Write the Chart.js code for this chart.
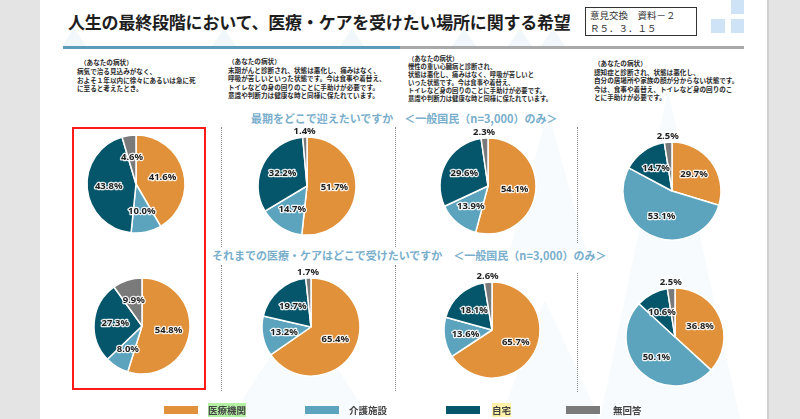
<!DOCTYPE html>
<html lang="ja">
<head>
<meta charset="utf-8">
<script src="https://cdn.jsdelivr.net/npm/chart.js@4.4.1/dist/chart.umd.min.js"></script>
<style>
  body { margin: 0; width: 800px; height: 419px; background: #e4e4e4; overflow: hidden;
         font-family: "Noto Sans CJK JP", "Noto Sans", sans-serif; }
  #slide { position: absolute; left: 40px; top: 0; width: 727px; height: 419px; background: #fff;
           border-right: 2px solid #d0d0d0; }
  .abs { position: absolute; }
  .desc { position: absolute; font-size: 6.6px; color: #2a2a2a; white-space: pre; font-weight: 700; }
  .sub { position: absolute; font-size: 11px; font-weight: 700; color: #79aecb; white-space: pre; }
  .sep { position: absolute; width: 0; border-left: 1.5px dotted #8a8a8a; }
  canvas { position: absolute; }
  #legend { position: absolute; top: 403px; left: 0; width: 800px; height: 14px; }
  .sw { position: absolute; top: 3px; width: 34px; height: 8px; }
  .lt { position: absolute; top: 0; font-size: 9.5px; font-weight: 700; color: #444; line-height: 14px; }
</style>
</head>
<body>
<div id="slide"></div>
<svg class="abs" style="left:0;top:0" width="800" height="419">
  <polygon points="62,46 74,28 86,46" fill="#f1f7fb"/>
  <polygon points="212,46 224,28 236,46" fill="#f1f7fb"/>
  <polygon points="340,46 352,28 364,46" fill="#f1f7fb"/>
  <polygon points="452,46 464,28 476,46" fill="#f1f7fb"/>
  <polygon points="508,46 520,28 532,46" fill="#f1f7fb"/>
  <polygon points="541,46 553,28 565,46" fill="#f1f7fb"/>
  <polygon points="510,250 548,110 586,250" fill="#f8fbfd"/>
  <polygon points="600,419 668,90 740,419" fill="#f8fbfd"/>
  <polygon points="230,419 300,310 370,419" fill="#f8fbfd"/>
  <polygon points="500,419 545,300 600,419" fill="#f8fbfd"/>
</svg>

<div class="abs" style="left:68px;top:9px;font-size:17px;font-weight:700;color:#1e1e1e;letter-spacing:-0.2px">人生の最終段階において、医療・ケアを受けたい場所に関する希望</div>
<div class="abs" style="left:585px;top:7px;width:112px;height:29px;border:1.5px solid #333;font-size:9.5px;color:#333;line-height:13px;padding-left:4px;box-sizing:border-box;padding-top:1px;font-family:'DejaVu Serif','Noto Sans CJK JP',serif">意見交換　資料－２<br>Ｒ５．３．１５</div>
<div class="abs" style="left:731px;top:0;width:13px;height:14px;background:#cfe3f6"></div>
<div class="abs" style="left:711px;top:19px;width:14px;height:14px;background:#cfe3f6"></div>
<div class="abs" style="left:731px;top:19px;width:13px;height:14px;background:#cfe3f6"></div>
<div class="abs" style="left:63px;top:46px;width:337px;height:3px;background:#5b9bb8"></div>
<div class="abs" style="left:400px;top:46px;width:344px;height:3px;background:#a9a9a9"></div>

<div class="desc" style="left:77px;top:58px;line-height:8.8px">  （あなたの病状）
病気で治る見込みがなく、
およそ１年以内に徐々にあるいは急に死
に至ると考えたとき。</div>
<div class="desc" style="left:228px;top:57px;line-height:8.5px">（あなたの病状）
末期がんと診断され、状態は悪化し、痛みはなく、
呼吸が苦しいといった状態です。今は食事や着替え、
トイレなどの身の回りのことに手助けが必要です。
意識や判断力は健康な時と同様に保たれています。</div>
<div class="desc" style="left:408px;top:55px;line-height:7.9px;font-size:6.3px">（あなたの病状）
慢性の重い心臓病と診断され、
状態は悪化し、痛みはなく、呼吸が苦しいと
いった状態です。今は食事や着替え、
トイレなど身の回りのことに手助けが必要です。
意識や判断力は健康な時と同様に保たれています。</div>
<div class="desc" style="left:594px;top:59px;line-height:8.5px">（あなたの病状）
認知症と診断され、状態は悪化し、
自分の居場所や家族の顔が分からない状態です。
今は、食事や着替え、トイレなど身の回りのこ
とに手助けが必要です。</div>

<div class="sub" style="left:251px;top:110px">最期をどこで迎えたいですか　＜一般国民（n=3,000）のみ＞</div>
<div class="sub" style="left:212px;top:247px">それまでの医療・ケアはどこで受けたいですか　＜一般国民（n=3,000）のみ＞</div>

<div class="sep" style="left:221px;top:127px;height:120px"></div>
<div class="sep" style="left:395px;top:127px;height:120px"></div>
<div class="sep" style="left:577px;top:127px;height:116px"></div>
<div class="sep" style="left:221px;top:265px;height:126px"></div>
<div class="sep" style="left:395px;top:265px;height:126px"></div>
<div class="sep" style="left:577px;top:273px;height:119px"></div>

<div class="abs" style="left:72px;top:127px;width:134px;height:263px;border:2.5px solid #ff1a1a;box-sizing:border-box"></div>

<canvas id="p1" width="150" height="140"></canvas>
<canvas id="p2" width="150" height="140"></canvas>
<canvas id="p3" width="150" height="140"></canvas>
<canvas id="p4" width="150" height="140"></canvas>
<canvas id="p5" width="150" height="140"></canvas>
<canvas id="p6" width="150" height="140"></canvas>
<canvas id="p7" width="150" height="140"></canvas>
<canvas id="p8" width="150" height="140"></canvas>

<div id="legend"></div>

<script>
const categories = ['医療機関', '介護施設', '自宅', '無回答'];

// 最期をどこで迎えたいですか (%)
const deathNoCure = [41.6, 10.0, 43.8, 4.6];
const deathCancer = [51.7, 14.7, 32.2, 1.4];
const deathHeart = [54.1, 13.9, 29.6, 2.3];
const deathDementia = [29.7, 53.1, 14.7, 2.5];

// それまでの医療・ケアはどこで受けたいですか (%)
const careNoCure = [54.8, 8.0, 27.3, 9.9];
const careCancer = [65.4, 13.2, 19.7, 1.7];
const careHeart = [65.7, 13.6, 18.1, 2.6];
const careDementia = [36.8, 50.1, 10.6, 2.5];

const colors = ['#e0913a', '#5ca4bd', '#05566b', '#7a7a7a'];

// % labels inside the slices, small ones just outside the pie
const pctLabels = {
  id: 'pctLabels',
  afterDatasetsDraw(chart) {
    const ctx = chart.ctx;
    const values = chart.data.datasets[0].data;
    chart.getDatasetMeta(0).data.forEach((arc, i) => {
      const v = values[i];
      const mid = (arc.startAngle + arc.endAngle) / 2;
      const r = v < 4 ? arc.outerRadius + 6 : arc.outerRadius * 0.56;
      const x = arc.x + Math.cos(mid) * r;
      const y = arc.y + Math.sin(mid) * r;
      const txt = v.toFixed(1) + '%';
      ctx.save();
      ctx.font = 'bold 9.5px "Noto Sans", sans-serif';
      ctx.textAlign = 'center';
      ctx.textBaseline = 'middle';
      ctx.lineJoin = 'round';
      ctx.lineWidth = 2.5;
      ctx.strokeStyle = 'rgba(255,255,255,0.9)';
      ctx.strokeText(txt, x, y);
      ctx.fillStyle = '#1e1e1e';
      ctx.fillText(txt, x, y);
      ctx.restore();
    });
  }
};

function drawPie(id, cx, cy, radius, values) {
  const canvas = document.getElementById(id);
  canvas.style.left = (cx - 75) + 'px';
  canvas.style.top = (cy - 70) + 'px';
  return new Chart(canvas.getContext('2d'), {
    type: 'pie',
    data: {
      labels: categories,
      datasets: [{
        data: values,
        backgroundColor: colors,
        borderColor: '#ffffff',
        borderWidth: 1.5,
        hoverOffset: 0
      }]
    },
    options: {
      responsive: false,
      animation: false,
      radius: radius,
      plugins: {
        legend: { display: false },
        tooltip: { enabled: false }
      }
    },
    plugins: [pctLabels]
  });
}

drawPie('p1', 136, 184, 49, deathNoCure);
drawPie('p2', 307, 186, 49, deathCancer);
drawPie('p3', 488, 186, 48, deathHeart);
drawPie('p4', 672, 191, 49, deathDementia);
drawPie('p5', 142, 326, 48, careNoCure);
drawPie('p6', 311, 327, 49, careCancer);
drawPie('p7', 492, 330, 48, careHeart);
drawPie('p8', 675, 337, 49, careDementia);

// legend along the bottom
const legend = document.getElementById('legend');
const swatchX = [164, 305, 446, 566];
categories.forEach((name, i) => {
  const sw = document.createElement('div');
  sw.className = 'sw';
  sw.style.left = swatchX[i] + 'px';
  sw.style.background = colors[i];
  legend.appendChild(sw);
  const t = document.createElement('div');
  t.className = 'lt';
  t.style.left = (swatchX[i] + (i === 3 ? 47 : i === 2 ? 46 : 44)) + 'px';
  t.textContent = name;
  if (i === 0) t.style.background = '#b4f0a4';
  if (i === 2) t.style.background = '#fff2a8';
  legend.appendChild(t);
});
</script>
</body>
</html>
